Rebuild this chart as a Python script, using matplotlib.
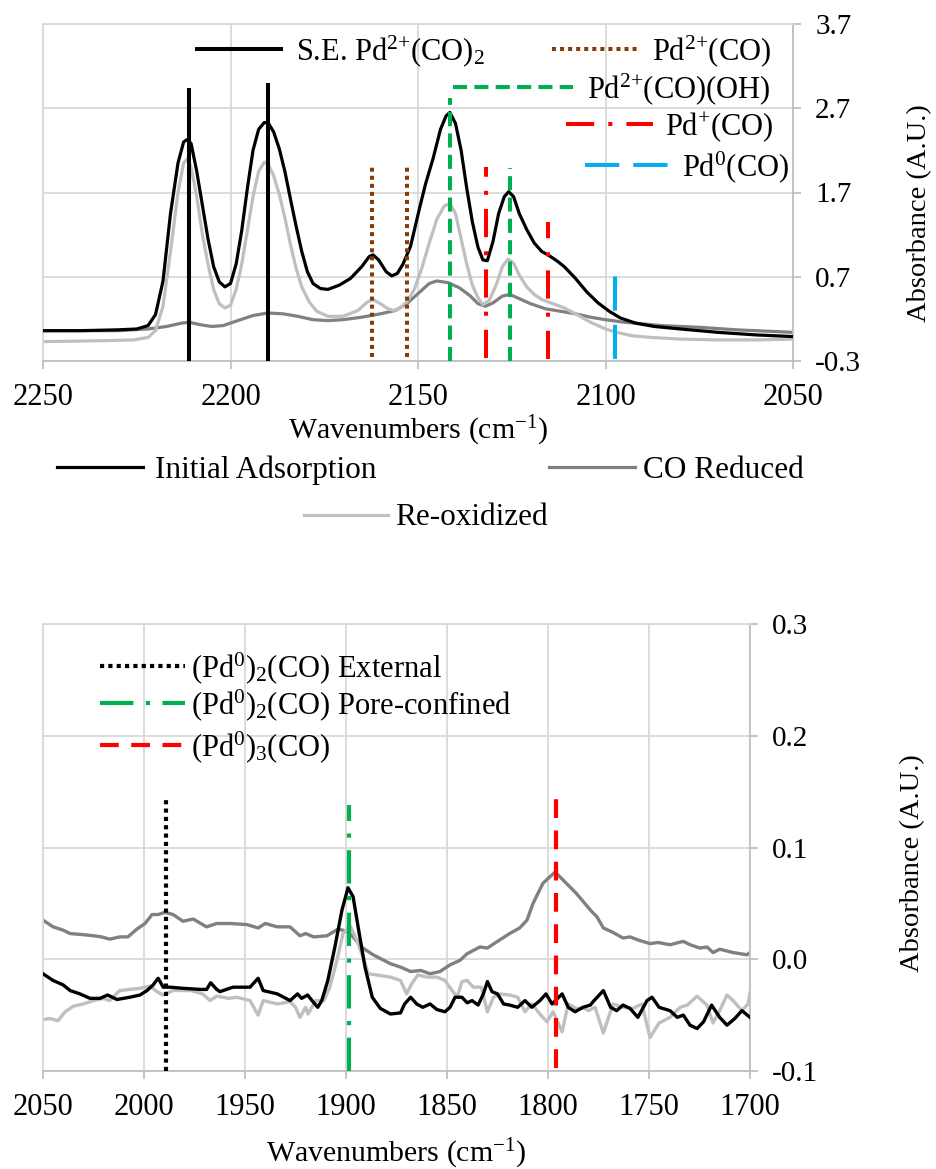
import matplotlib.pyplot as plt

plt.rcParams['font.family'] = ['Liberation Serif', 'DejaVu Serif']
plt.rcParams['mathtext.fontset'] = 'custom'
plt.rcParams['mathtext.rm'] = 'Liberation Serif'
plt.rcParams['mathtext.it'] = 'Liberation Serif:italic'
plt.rcParams['mathtext.bf'] = 'Liberation Serif:bold'
plt.rcParams['axes.unicode_minus'] = False

# ---------------- top panel data (2250-2050 cm-1) ----------------
init_wn = [2250, 2240, 2230, 2225, 2222, 2220, 2218, 2216, 2214, 2212.5, 2211.5, 2210.5,
           2209, 2207.5, 2206, 2204.5, 2203, 2201.5, 2200, 2198.5, 2197, 2195.5, 2194,
           2192.5, 2191, 2190, 2188.5, 2187, 2185.5, 2184, 2182.5, 2181, 2179.5, 2178,
           2176, 2174, 2171, 2168, 2165, 2163, 2162, 2160.5, 2158.5, 2157, 2155.5, 2154,
           2152, 2149.5, 2148, 2146, 2144, 2142.5, 2141.5, 2140, 2138.5, 2137, 2135.5,
           2134, 2132.7, 2131.5, 2130, 2128.5, 2127, 2125.8, 2124.5, 2123, 2121, 2119,
           2117, 2115, 2113, 2111, 2108, 2105, 2102, 2099, 2096, 2092, 2087, 2080, 2070,
           2060, 2050]
init_abs = [0.06, 0.06, 0.07, 0.08, 0.12, 0.25, 0.65, 1.45, 2.05, 2.30, 2.33, 2.28,
            1.95, 1.55, 1.15, 0.82, 0.64, 0.58, 0.62, 0.85, 1.25, 1.75, 2.20,
            2.45, 2.53, 2.53, 2.42, 2.22, 1.95, 1.62, 1.30, 1.00, 0.76, 0.62,
            0.56, 0.55, 0.60, 0.68, 0.82, 0.94, 0.96, 0.90, 0.76, 0.71, 0.74, 0.85,
            1.06, 1.53, 1.80, 2.10, 2.45, 2.61, 2.65, 2.52, 2.20, 1.75, 1.35,
            1.05, 0.90, 0.89, 1.12, 1.45, 1.65, 1.71, 1.65, 1.45, 1.26, 1.10,
            1.00, 0.95, 0.89, 0.82, 0.68, 0.52, 0.39, 0.29, 0.21, 0.15, 0.11, 0.08, 0.04,
            0.01, -0.01]

red_wn = [2250, 2230, 2222, 2217, 2213, 2211, 2208, 2205, 2202, 2198, 2194, 2190, 2186,
          2182, 2178, 2174, 2170, 2165, 2160, 2156, 2153, 2150, 2147, 2145, 2142, 2139,
          2136, 2134, 2132, 2130, 2127.5, 2125.5, 2123, 2120, 2116, 2112, 2108, 2104,
          2100, 2095, 2085, 2075, 2065, 2050]
red_abs = [0.06, 0.06, 0.08, 0.11, 0.15, 0.16, 0.13, 0.11, 0.12, 0.18, 0.24, 0.27, 0.26,
           0.23, 0.19, 0.18, 0.19, 0.22, 0.26, 0.30, 0.38, 0.50, 0.62, 0.65, 0.63, 0.57,
           0.47, 0.38, 0.35, 0.39, 0.47, 0.49, 0.44, 0.38, 0.32, 0.29, 0.26, 0.22,
           0.19, 0.16, 0.12, 0.10, 0.07, 0.04]

reox_wn = [2250, 2235, 2226, 2222, 2220, 2218, 2216, 2214, 2212.5, 2211.5, 2210.5, 2209,
           2207.5, 2206, 2204.5, 2203, 2201.5, 2200, 2198.5, 2197, 2195.5, 2194, 2192.5,
           2191, 2190, 2188.5, 2187, 2185.5, 2184, 2182.5, 2181, 2179, 2177, 2174, 2170,
           2166, 2163.5, 2162, 2160, 2158, 2156.5, 2155, 2153, 2151, 2149, 2147, 2145,
           2143, 2141.5, 2140, 2138.5, 2137, 2135.5, 2134, 2132.7, 2131, 2129, 2127.5,
           2126, 2124.5, 2123, 2121, 2119, 2117, 2114, 2111, 2108, 2104, 2100, 2097,
           2093, 2088, 2080, 2070, 2060, 2050]
reox_abs = [-0.07, -0.06, -0.05, -0.02, 0.06, 0.35, 1.00, 1.70, 2.05, 2.10, 2.00, 1.65,
            1.20, 0.85, 0.55, 0.38, 0.33, 0.36, 0.55, 0.85, 1.25, 1.65, 1.95,
            2.06, 2.04, 1.90, 1.68, 1.40, 1.08, 0.80, 0.58, 0.40, 0.29, 0.23, 0.23,
            0.30, 0.40, 0.43, 0.38, 0.32, 0.30, 0.32, 0.40, 0.55, 0.80, 1.10, 1.38,
            1.54, 1.57, 1.45, 1.15, 0.85, 0.60, 0.45, 0.37, 0.42, 0.62, 0.82,
            0.91, 0.86, 0.72, 0.58, 0.49, 0.43, 0.38, 0.33, 0.26, 0.16, 0.08, 0.04,
            0.00, -0.02, -0.04, -0.05, -0.05, -0.04]

# reference band positions (cm-1) and their drawn extents (A.U.)
se_pos, se_lo, se_hi = [2211, 2190], [-0.3, -0.3], [2.92, 2.98]
pd2_pos, pd2_lo, pd2_hi = [2162.3, 2153], [-0.25, -0.25], [2.0, 2.0]
pd2oh_pos, pd2oh_lo, pd2oh_hi = [2141.5, 2125.5], [-0.3, -0.3], [2.82, 1.99]
pd1_pos, pd1_lo, pd1_hi = [2132, 2115.3], [-0.26, -0.28], [2.0, 1.35]
pd0_pos, pd0_lo, pd0_hi = [2097.5], [-0.28], [0.76]

# ---------------- bottom panel data (2050-1700 cm-1) ----------------
b_red_wn = [2050, 2045, 2040, 2036.6, 2030, 2025, 2021, 2017, 2012, 2008, 2003.5, 1999.5,
            1996, 1993, 1989.6, 1985.6, 1980.7, 1975.7, 1969, 1964, 1957.5, 1949, 1943.5,
            1940, 1934, 1927.7, 1922.8, 1920, 1916, 1909.4, 1904, 1899.5, 1896.5, 1891.6,
            1886.6, 1878, 1873, 1868, 1863, 1858.4, 1853.5, 1848.5, 1843.6, 1840, 1833.7,
            1830, 1825, 1819, 1814, 1810.4, 1807.4, 1802.5, 1796.5, 1792.6, 1786, 1779,
            1775.8, 1772.6, 1767.8, 1762.9, 1759.4, 1755, 1749.5, 1745.6, 1739.6, 1733,
            1729.7, 1724.8, 1721.3, 1718.3, 1715, 1708.4, 1701.5, 1700]
b_red_abs = [0.035, 0.029, 0.026, 0.023, 0.022, 0.021, 0.020, 0.018, 0.020, 0.020, 0.027, 0.032,
             0.040, 0.040, 0.042, 0.040, 0.034, 0.036, 0.029, 0.032, 0.032, 0.031, 0.028,
             0.032, 0.029, 0.029, 0.021, 0.023, 0.020, 0.021, 0.027, 0.025, 0.020, 0.010,
             0.004, -0.004, -0.007, -0.011, -0.010, -0.013, -0.011, -0.005, -0.001, 0.005, 0.011,
             0.010, 0.016, 0.023, 0.028, 0.035, 0.050, 0.068, 0.078, 0.071, 0.059, 0.044,
             0.038, 0.028, 0.024, 0.019, 0.020, 0.017, 0.014, 0.015, 0.013, 0.016,
             0.013, 0.010, 0.011, 0.006, 0.009, 0.006, 0.004, 0.006]

b_init_wn = [2050, 2045, 2040, 2036.6, 2031.7, 2026.7, 2021.8, 2018, 2013.4, 2007, 2002, 1998.5,
             1995.5, 1993, 1990.5, 1987, 1980.7, 1972, 1969, 1967, 1964, 1962.4, 1956, 1947.5,
             1943.5, 1941, 1934, 1927.7, 1924, 1922, 1919, 1916.8, 1914, 1912, 1909, 1905.5,
             1902, 1899, 1896.5, 1894, 1890.6, 1887, 1883, 1878, 1873, 1871, 1868, 1865, 1862,
             1858.4, 1855, 1851, 1848.5, 1846, 1842.6, 1840, 1837.6, 1834.6, 1832, 1830,
             1827.7, 1825, 1822, 1819, 1815, 1811.4, 1808, 1804, 1801, 1798, 1793, 1790,
             1786.6, 1782.7, 1779, 1777.7, 1772.6, 1769, 1766, 1762.9, 1759.4, 1755.5, 1751,
             1748.5, 1745, 1739.6, 1736, 1733, 1729.7, 1726.2, 1723, 1719, 1715, 1711.4,
             1707.5, 1704, 1700]
b_init_abs = [-0.013, -0.019, -0.023, -0.028, -0.031, -0.035, -0.035, -0.032, -0.036, -0.034, -0.032, -0.028,
              -0.023, -0.017, -0.025, -0.025, -0.026, -0.027, -0.027, -0.021, -0.027, -0.029, -0.025, -0.025,
              -0.017, -0.028, -0.031, -0.037, -0.031, -0.035, -0.032, -0.037, -0.043, -0.037, -0.019, 0.011,
              0.044, 0.064, 0.056, 0.029, -0.007, -0.034, -0.044, -0.049, -0.048, -0.040, -0.034, -0.040, -0.043,
              -0.040, -0.045, -0.047, -0.043, -0.034, -0.034, -0.039, -0.037, -0.041, -0.031, -0.020,
              -0.029, -0.031, -0.040, -0.041, -0.043, -0.037, -0.043, -0.037, -0.031, -0.040, -0.031, -0.043,
              -0.047, -0.043, -0.041, -0.038, -0.028, -0.043, -0.046, -0.041, -0.044, -0.052, -0.037,
              -0.034, -0.043, -0.046, -0.052, -0.050, -0.059, -0.062, -0.056, -0.041, -0.052, -0.059,
              -0.053, -0.046, -0.052]

b_reox_wn = [2050, 2046.5, 2042.6, 2039, 2035, 2030, 2025, 2020, 2017, 2012, 2007, 2002, 1997,
             1993.6, 1990.5, 1985.6, 1977, 1971, 1967.3, 1964, 1958, 1954, 1947.5, 1943.5, 1941,
             1934, 1927.7, 1925, 1922.8, 1920, 1918.8, 1915, 1911, 1908, 1904.5, 1901.5, 1898,
             1894.6, 1891.6, 1889, 1885, 1878, 1873, 1870, 1867.5, 1864.4, 1860, 1855, 1851,
             1847.5, 1845, 1842.6, 1840, 1837, 1833, 1830, 1827, 1823.8, 1819, 1815, 1811.4,
             1808, 1804, 1800.5, 1797.5, 1793, 1790, 1786, 1782, 1780, 1776.7, 1772.6, 1767.8,
             1762.9, 1758, 1753.5, 1749.5, 1745, 1739.6, 1734.6, 1731, 1726.2, 1721.3, 1718.3,
             1715, 1711.4, 1708.4, 1704, 1701, 1700]
b_reox_abs = [-0.054, -0.053, -0.055, -0.047, -0.042, -0.040, -0.037, -0.035, -0.037, -0.028, -0.027, -0.026, -0.024,
              -0.029, -0.032, -0.028, -0.028, -0.031, -0.037, -0.033, -0.035, -0.034, -0.037, -0.050, -0.037,
              -0.040, -0.038, -0.043, -0.052, -0.043, -0.049, -0.037, -0.037, -0.025, -0.001, 0.023, 0.030,
              0.017, 0.002, -0.013, -0.014, -0.016, -0.019, -0.031, -0.022, -0.014, -0.016, -0.016, -0.019,
              -0.028, -0.034, -0.020, -0.019, -0.025, -0.025, -0.047, -0.034, -0.031, -0.032, -0.034, -0.047,
              -0.040, -0.049, -0.056, -0.047, -0.065, -0.040, -0.044, -0.044, -0.046, -0.043, -0.066, -0.040,
              -0.043, -0.044, -0.040, -0.070, -0.057, -0.052, -0.043, -0.041, -0.033, -0.041, -0.057,
              -0.046, -0.032, -0.037, -0.046, -0.040, -0.030]

ext_pos, ext_lo, ext_hi = [1989], [-0.1], [0.143]
pore_pos, pore_lo, pore_hi = [1898.5], [-0.1], [0.138]
tri_pos, tri_lo, tri_hi = [1796], [-0.097], [0.147]

top_yticks = [-0.3, 0.7, 1.7, 2.7, 3.7]
top_ylabels = ['-0.3', '0.7', '1.7', '2.7', '3.7']
bot_yticks = [-0.1, 0.0, 0.1, 0.2, 0.3]
bot_ylabels = ['-0.1', '0.0', '0.1', '0.2', '0.3']

W, H = 936, 1169
fig = plt.figure(figsize=(W / 100, H / 100), dpi=100)
GRID = '#d9d9d9'
AXC = '#bfbfbf'


def style(ax, xlim, xticks, ylim, yticks, ylabels, lab_x, lab_y, xlab_y):
    ax.set_xlim(*xlim)
    ax.set_ylim(*ylim)
    ax.set_xticks(xticks)
    ax.set_yticks(yticks)
    ax.set_yticklabels(ylabels)
    ax.yaxis.tick_right()
    ax.yaxis.set_label_position('right')
    ax.grid(True, color=GRID, lw=1.3)
    ax.set_axisbelow(True)
    for s in ['left', 'top']:
        ax.spines[s].set_color(GRID)
        ax.spines[s].set_linewidth(1.3)
    for s in ['right', 'bottom']:
        ax.spines[s].set_color(AXC)
        ax.spines[s].set_linewidth(1.3)
    ax.tick_params(axis='both', color=AXC, width=1.3, length=6)
    ax.tick_params(axis='x', pad=10, labelsize=22)
    ax.tick_params(axis='y', pad=10, labelsize=21)
    ax.set_xlabel('Wavenumbers (cm$^{-1}$)', fontsize=21.5)
    ax.set_ylabel('Absorbance (A.U.)', fontsize=20.5)
    ax.xaxis.set_label_coords(0.5, xlab_y)
    ax.xaxis.label.set_va('center')
    ax.yaxis.set_label_coords(lab_x, lab_y)
    ax.yaxis.label.set_va('center')
    ax.yaxis.label.set_ha('center')


def bands(ax, pos, lo, hi, **kw):
    h = None
    for x, a, b in zip(pos, lo, hi):
        h, = ax.plot([x, x], [a, b], zorder=4, **kw)
    return h


def key(handle, text, x, y, size, hlen, gap):
    fpx = size * 100 / 72
    fig.legend([handle], [text], loc='center left', bbox_to_anchor=(x / W, 1 - y / H),
               frameon=False, fontsize=size, handlelength=hlen / fpx,
               handletextpad=gap / fpx, borderpad=0, borderaxespad=0)


# ---------------- top panel ----------------
ax1 = fig.add_axes([43 / W, 1 - 361 / H, 750 / W, 337 / H])
l_init, = ax1.plot(init_wn, init_abs, color='black', lw=2.3, zorder=3)
l_red, = ax1.plot(red_wn, red_abs, color='#808080', lw=2.3, zorder=2)
l_reox, = ax1.plot(reox_wn, reox_abs, color='#bfbfbf', lw=2.3, zorder=2)

h_se = bands(ax1, se_pos, se_lo, se_hi, color='black', lw=2.9)
h_pd2 = bands(ax1, pd2_pos, pd2_lo, pd2_hi, color='#843c0c', lw=2.9, linestyle=(0, (1, 1)))
h_pd2oh = bands(ax1, pd2oh_pos, pd2oh_lo, pd2oh_hi, color='#00b050', lw=2.9,
                linestyle=(0, (3.5, 1.8)))
h_pd1 = bands(ax1, pd1_pos, pd1_lo, pd1_hi, color='#ff0000', lw=2.9,
              linestyle=(0, (7, 3.5, 1, 3.5)))
h_pd0 = bands(ax1, pd0_pos, pd0_lo, pd0_hi, color='#00b0f0', lw=2.9, linestyle=(0, (8.5, 3.5)))

style(ax1, (2250, 2050), [2250, 2200, 2150, 2100, 2050], (-0.3, 3.7),
      top_yticks, top_ylabels, 1.169, 0.44, -0.207)

key(h_se, 'S.E. Pd$^{2{+}}$(CO)$_2$', 197, 51, 22, 84, 15)
key(h_pd2, 'Pd$^{2{+}}$(CO)', 552, 51, 22, 85, 15)
key(h_pd2oh, 'Pd$^{2{+}}$(CO)(OH)', 453, 89, 22, 120, 14)
key(h_pd1, 'Pd$^{+}$(CO)', 566, 127, 22, 87, 12)
key(h_pd0, 'Pd$^{0}$(CO)', 585, 167, 22, 85, 12)

key(l_init, 'Initial Adsorption', 57, 470, 22.5, 86, 12)
key(l_red, 'CO Reduced', 549, 470, 22.5, 86, 8)
key(l_reox, 'Re-oxidized', 304, 518, 22.5, 84, 7)

# ---------------- bottom panel ----------------
ax2 = fig.add_axes([43 / W, 1 - 1071 / H, 707 / W, 447 / H])
ax2.plot(b_red_wn, b_red_abs, color='#808080', lw=2.4, zorder=2)
ax2.plot(b_reox_wn, b_reox_abs, color='#bfbfbf', lw=2.4, zorder=2)
ax2.plot(b_init_wn, b_init_abs, color='black', lw=2.4, zorder=3)

h_ext = bands(ax2, ext_pos, ext_lo, ext_hi, color='black', lw=3, linestyle=(0, (1, 1)))
h_pore = bands(ax2, pore_pos, pore_lo, pore_hi, color='#00b050', lw=3,
               linestyle=(0, (8, 3, 1, 3)))
h_tri = bands(ax2, tri_pos, tri_lo, tri_hi, color='#ff0000', lw=3, linestyle=(0, (4.5, 3)))

style(ax2, (2050, 1700), [2050, 2000, 1950, 1900, 1850, 1800, 1750, 1700], (-0.1, 0.3),
      bot_yticks, bot_ylabels, 1.23, 0.465, -0.185)

key(h_ext, '(Pd$^{0}$)$_2$(CO) External', 100, 668, 22, 85, 6)
key(h_pore, '(Pd$^{0}$)$_2$(CO) Pore-confined', 100, 705, 22, 85, 6)
key(h_tri, '(Pd$^{0}$)$_3$(CO)', 100, 747, 22, 85, 6)

fig.savefig('out.png', dpi=100)
